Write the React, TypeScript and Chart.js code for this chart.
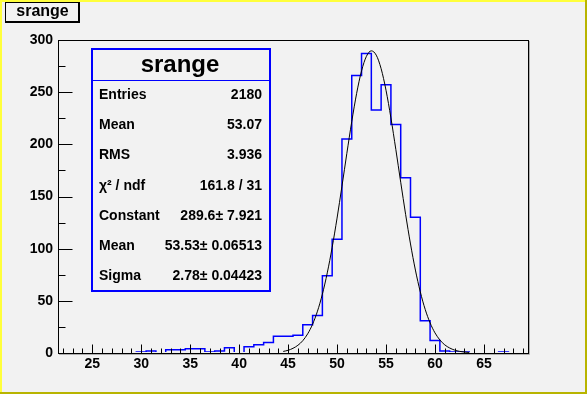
import React, { useEffect, useRef } from "react";
import { Chart, registerables } from "chart.js";
Chart.register(...registerables);

// ---- data ----
const histTitle = "srange";
const binCenters = [22, 23, 24, 25, 26, 27, 28, 29, 30, 31, 32, 33, 34, 35, 36, 37, 38, 39, 40, 41, 42, 43, 44, 45, 46, 47, 48, 49, 50, 51, 52, 53, 54, 55, 56, 57, 58, 59, 60, 61, 62, 63, 64, 65, 66, 67, 68, 69];
const binCounts = [0, 0, 0, 0, 0, 0, 0, 0, 1, 2, 0, 3, 3, 4, 4, 1, 2, 5, 0, 6, 8, 10, 16, 16, 17, 27, 36, 74, 109, 205, 266, 287, 233, 257, 219, 168, 130, 31, 12, 2, 1, 1, 0, 0, 0, 1, 0, 0];
const binWidth = 1;
const fitX = [44.5, 45, 45.5, 46, 46.5, 47, 47.5, 48, 48.5, 49, 49.5, 50, 50.5, 51, 51.5, 52, 52.5, 53, 53.5, 54, 54.5, 55, 55.5, 56, 56.5, 57, 57.5, 58, 58.5, 59, 59.5, 60, 60.5, 61, 61.5, 62, 62.5, 63, 63.5];
const fitY = [1.5, 2.6, 4.5, 7.4, 11.8, 18.4, 27.6, 40.1, 56.4, 76.8, 101.3, 129.3, 159.9, 191.4, 221.8, 248.9, 270.4, 284.4, 289.6, 285.5, 272.5, 251.8, 225.3, 195.2, 163.7, 132.9, 104.5, 79.5, 58.6, 41.8, 28.9, 19.3, 12.5, 7.8, 4.8, 2.8, 1.6, 0.9, 0.5];
const xMin = 21.5;
const xMax = 69.5;
const xTicks = [25, 30, 35, 40, 45, 50, 55, 60, 65];
const yTicks = [0, 50, 100, 150, 200, 250, 300];
const statsLabels = ["Entries", "Mean", "RMS", "\u03C7\u00B2 / ndf", "Constant", "Mean", "Sigma"];
const statsValues = ["2180", "53.07", "3.936", "161.8 / 31", "289.6\u00B1 7.921", "53.53\u00B1 0.06513", "2.78\u00B1 0.04423"];

const FONT = '"Liberation Sans", Arial, Helvetica, sans-serif';

const rootPlugin = {
  id: "rootStyle",
  beforeDraw(chart: any) {
    const ctx = chart.ctx;
    const W = chart.width, H = chart.height;
    ctx.save();
    ctx.fillStyle = "#f2f2f2";
    ctx.fillRect(0, 0, W, H);
    ctx.fillStyle = "#ffff3c";
    ctx.fillRect(0, 0, W, 2);
    ctx.fillRect(0, 0, 2, H);
    ctx.fillStyle = "#b8b400";
    ctx.fillRect(W - 2, 0, 2, H);
    ctx.fillRect(0, H - 2, W, 2);
    ctx.restore();
  },
  afterDatasetsDraw(chart: any) {
    const ctx = chart.ctx;
    const a = chart.chartArea;
    const xs = chart.scales.x;
    const ys = chart.scales.y;
    ctx.save();
    // frame shadow
    ctx.strokeStyle = "#b0b0b0";
    ctx.lineWidth = 1;
    ctx.beginPath();
    ctx.moveTo(a.right + 1.5, a.top + 1);
    ctx.lineTo(a.right + 1.5, a.bottom + 1.5);
    ctx.lineTo(a.left + 1, a.bottom + 1.5);
    ctx.stroke();
    // frame
    ctx.strokeStyle = "#000";
    ctx.lineWidth = 1;
    ctx.strokeRect(a.left + 0.5, a.top + 0.5, a.right - a.left, a.bottom - a.top);
    // x ticks (inside)
    ctx.beginPath();
    for (let v = Math.ceil(xs.min); v <= xs.max; v += 1) {
      const px = Math.round(xs.getPixelForValue(v)) + 0.5;
      const len = v % 5 === 0 ? 9 : 5;
      ctx.moveTo(px, a.bottom + 0.5);
      ctx.lineTo(px, a.bottom + 0.5 - len);
    }
    // y ticks (inside)
    for (let v = 0; v <= ys.max; v += 25) {
      const py = Math.round(ys.getPixelForValue(v)) + 0.5;
      const len = v % 50 === 0 ? 14 : 7;
      ctx.moveTo(a.left + 0.5, py);
      ctx.lineTo(a.left + 0.5 + len, py);
    }
    ctx.stroke();

    // title box
    ctx.fillStyle = "#f2f2f2";
    ctx.fillRect(5, 2, 75, 20);
    ctx.fillStyle = "#000";
    ctx.fillRect(5, 2, 75, 1);
    ctx.fillRect(5, 2, 1, 21);
    ctx.fillRect(78, 2, 2, 21);
    ctx.fillRect(5, 21, 75, 2);
    ctx.font = `bold 16px ${FONT}`;
    ctx.textAlign = "center";
    ctx.textBaseline = "alphabetic";
    ctx.fillText(histTitle, 42.5, 16);

    // stats box
    const bx = 91, by = 48, bw = 180, bh = 244;
    ctx.fillStyle = "#f2f2f2";
    ctx.fillRect(bx, by, bw, bh);
    ctx.strokeStyle = "#0000ff";
    ctx.lineWidth = 2;
    ctx.strokeRect(bx + 1, by + 1, bw - 2, bh - 2);
    ctx.lineWidth = 1;
    ctx.beginPath();
    ctx.moveTo(bx + 1, 80.5);
    ctx.lineTo(bx + bw - 1, 80.5);
    ctx.stroke();
    ctx.fillStyle = "#000";
    ctx.font = `bold 24px ${FONT}`;
    ctx.textAlign = "center";
    ctx.fillText(histTitle, 180, 72);
    ctx.font = `bold 14px ${FONT}`;
    statsLabels.forEach((lab, i) => {
      const yb = 99 + i * 30.2;
      ctx.textAlign = "left";
      ctx.fillText(lab, 99, yb);
      ctx.textAlign = "right";
      ctx.fillText(statsValues[i], 262, yb);
    });
    ctx.restore();
  },
};

export default function App() {
  const ref = useRef<HTMLCanvasElement | null>(null);
  useEffect(() => {
    if (!ref.current) return;
    const histPoints = binCenters.map((c, i) => ({ x: c - binWidth / 2, y: binCounts[i] }));
    histPoints.push({
      x: binCenters[binCenters.length - 1] + binWidth / 2,
      y: binCounts[binCounts.length - 1],
    });
    const fitPoints = fitX.map((x, i) => ({ x, y: fitY[i] }));
    const tickFont = { family: FONT, size: 14, weight: "bold" as const };
    const chart = new Chart(ref.current, {
      type: "line",
      data: {
        datasets: [
          {
            label: "fit",
            data: fitPoints,
            borderColor: "#000000",
            borderWidth: 1,
            pointRadius: 0,
            cubicInterpolationMode: "monotone",
            fill: false,
            order: 0,
          },
          {
            label: histTitle,
            data: histPoints,
            borderColor: "#0000ff",
            borderWidth: 1.5,
            pointRadius: 0,
            stepped: "before",
            fill: false,
            clip: { left: 0, top: 0, right: 0, bottom: -1 },
            order: 1,
          },
        ],
      },
      options: {
        animation: false,
        responsive: false,
        events: [],
        layout: { padding: { left: 0, top: 40, right: 59, bottom: 0 } },
        plugins: {
          legend: { display: false },
          tooltip: { enabled: false },
          title: { display: false },
        },
        scales: {
          x: {
            type: "linear",
            min: xMin,
            max: xMax,
            afterBuildTicks: (s: any) => {
              s.ticks = xTicks.map((v) => ({ value: v }));
            },
            afterFit: (s: any) => {
              s.height = 41;
            },
            grid: { display: false, drawTicks: false },
            border: { display: false },
            ticks: { color: "#000", font: tickFont, padding: 3, maxRotation: 0, autoSkip: false },
          },
          y: {
            type: "linear",
            min: 0,
            max: 300,
            afterBuildTicks: (s: any) => {
              s.ticks = yTicks.map((v) => ({ value: v }));
            },
            afterFit: (s: any) => {
              s.width = 58;
            },
            grid: { display: false, drawTicks: false },
            border: { display: false },
            ticks: { color: "#000", font: tickFont, padding: 5, autoSkip: false },
          },
        },
      },
      plugins: [rootPlugin],
    } as any);
    return () => chart.destroy();
  }, []);
  return (
    <canvas
      ref={ref}
      width={587}
      height={394}
      style={{ position: "absolute", left: 0, top: 0, display: "block" }}
    />
  );
}
